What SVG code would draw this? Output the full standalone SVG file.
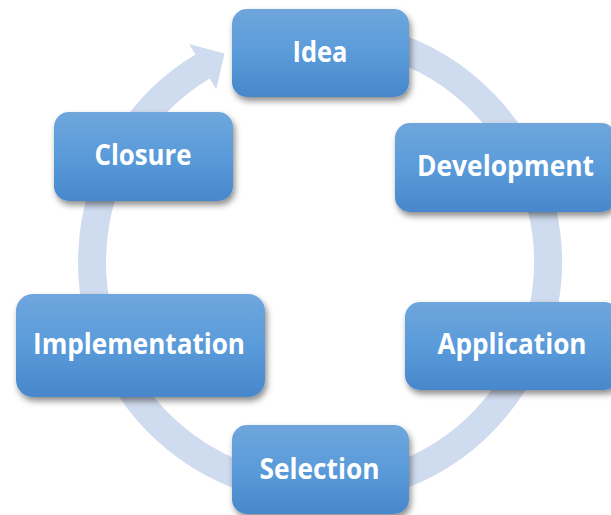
<svg xmlns="http://www.w3.org/2000/svg" width="611" height="515" viewBox="0 0 611 515">
<defs>
<linearGradient id="boxGrad" x1="0" y1="0" x2="0" y2="1">
<stop offset="0" stop-color="#6FA6DC"/>
<stop offset="0.5" stop-color="#5A9BDA"/>
<stop offset="1" stop-color="#4787CB"/>
</linearGradient>
<filter id="shadow" x="-10%" y="-10%" width="125%" height="135%">
<feDropShadow dx="2" dy="4" stdDeviation="3" flood-color="#000" flood-opacity="0.45"/>
</filter>
</defs>
<style>
.box{fill:url(#boxGrad);filter:url(#shadow)}
.lbl{font-family:"Open Sans","Noto Sans","Liberation Sans",sans-serif;font-weight:bold;font-size:29px;fill:#fff;text-anchor:middle}
.ring{fill:none;stroke:#CFDBEE;stroke-width:28}
.head{fill:#CFDBEE}
</style>
<rect width="611" height="515" fill="#fff"/>
<g id="connectors">
<path class="ring" d="M280.4,37.5 A228,228 0 1 1 202.6,66.6"/>
<polygon class="head" points="189,43.9 224.5,53.5 216.2,89.3"/>
</g>
<g id="idea">
<rect class="box" x="232" y="9" width="177" height="88" rx="15"/>
<text class="lbl" x="320" y="62" textLength="55" lengthAdjust="spacingAndGlyphs">Idea</text>
</g>
<g id="development">
<rect class="box" x="395" y="123" width="221" height="89" rx="15"/>
<text class="lbl" x="505.5" y="176" textLength="177" lengthAdjust="spacingAndGlyphs">Development</text>
</g>
<g id="application">
<rect class="box" x="405" y="302" width="214" height="88" rx="15"/>
<text class="lbl" x="512" y="354" textLength="149" lengthAdjust="spacingAndGlyphs">Application</text>
</g>
<g id="selection">
<rect class="box" x="232" y="425" width="177" height="89" rx="15"/>
<text class="lbl" x="319.5" y="479" textLength="120" lengthAdjust="spacingAndGlyphs">Selection</text>
</g>
<g id="implementation">
<rect class="box" x="16" y="294" width="249" height="103" rx="17"/>
<text class="lbl" x="139" y="354" textLength="212" lengthAdjust="spacingAndGlyphs">Implementation</text>
</g>
<g id="closure">
<rect class="box" x="54" y="112" width="179" height="89" rx="15"/>
<text class="lbl" x="143" y="165" textLength="97" lengthAdjust="spacingAndGlyphs">Closure</text>
</g>
</svg>
